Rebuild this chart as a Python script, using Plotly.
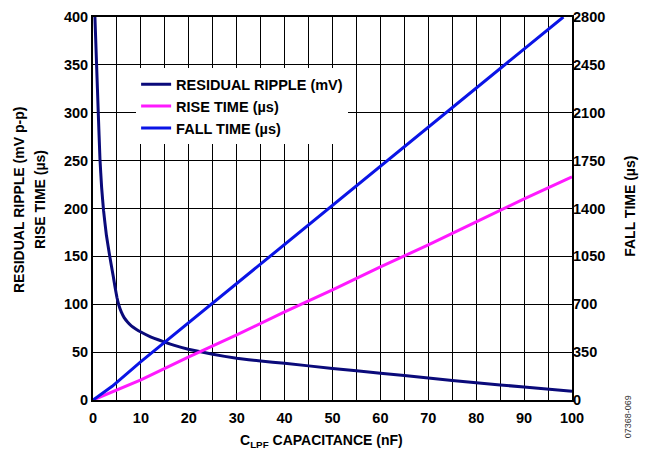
import plotly.graph_objects as go

# Residual ripple (mV p-p) vs capacitance (nF)
ripple_c = [0.4, 0.75, 1.1, 1.45, 1.8, 2.2, 2.8, 3.5, 4.2, 4.6, 5.0, 5.4, 5.9, 6.5,
            7.2, 8.0, 9.0, 10, 12, 14.7, 17, 19.9, 25, 30, 35, 40, 50, 60, 70, 80, 90, 100]
ripple_mv = [400, 350, 300, 252, 222, 198, 172, 150, 130, 118, 107, 99, 92, 86,
             81.5, 77.5, 74, 71, 66, 61, 57, 53, 47.7, 43.5, 40.7, 38.3, 33, 28, 23, 18, 13.5, 9]

# Rise time (µs), left axis
rise_c = [0, 10, 20, 30, 40, 50, 60, 70, 80, 90, 100]
rise_us = [0, 21, 45, 68, 92, 115, 139, 162, 186, 210, 233]

# Fall time (µs), right axis
fall_c = [0, 4, 10, 20, 30, 40, 50, 60, 70, 80, 90, 98.2]
fall_us = [0, 100, 280, 566, 852, 1138, 1423, 1708, 1993, 2278, 2563, 2800]

x_ticks = [0, 10, 20, 30, 40, 50, 60, 70, 80, 90, 100]
left_ticks = [0, 50, 100, 150, 200, 250, 300, 350, 400]
right_ticks = [0, 350, 700, 1050, 1400, 1750, 2100, 2450, 2800]

NAVY = "#0a0a7a"
MAGENTA = "#ff19ff"
BLUE = "#0a14e6"
FONT = "Liberation Sans, Arial, sans-serif"
TICK = 14.5
TITLE = 14

fig = go.Figure()
fig.add_trace(go.Scatter(x=ripple_c, y=ripple_mv, mode="lines", name="<b>RESIDUAL RIPPLE (mV)</b>",
                         line=dict(color=NAVY, width=3, shape="spline", smoothing=0.3)))
fig.add_trace(go.Scatter(x=rise_c, y=rise_us, mode="lines", name="<b>RISE TIME (µs)</b>",
                         line=dict(color=MAGENTA, width=3)))
fig.add_trace(go.Scatter(x=fall_c, y=fall_us, mode="lines", name="<b>FALL TIME (µs)</b>",
                         line=dict(color=BLUE, width=3), yaxis="y2"))


def title_ann(text, x, y, angle):
    return dict(text=f"<b>{text}</b>", xref="paper", yref="paper", x=x, y=y,
                xanchor="center", yanchor="middle", textangle=angle, showarrow=False,
                font=dict(size=TITLE, family=FONT, color="black"))


fig.update_layout(
    width=641, height=443,
    margin=dict(l=85, r=77, t=9, b=51),
    paper_bgcolor="white", plot_bgcolor="white",
    font=dict(family=FONT, size=14, color="black"),
    showlegend=True,
    legend=dict(x=0.09, y=0.866, xanchor="left", yanchor="top",
                bgcolor="white", borderwidth=0, itemwidth=30,
                font=dict(size=14.5, family=FONT, color="black"),
                tracegroupgap=0),
    xaxis=dict(range=[0, 100], tickvals=x_ticks, ticktext=[f"<b>{v}</b>" for v in x_ticks],
               tickfont=dict(size=TICK), ticklabelstandoff=4, automargin=False,
               showgrid=True, gridcolor="black", gridwidth=1,
               minor=dict(dtick=5, showgrid=True, gridcolor="black", gridwidth=1),
               showline=True, linecolor="black", linewidth=2, mirror=True,
               ticks="", zeroline=False),
    yaxis=dict(range=[0, 400], tickvals=left_ticks, ticktext=[f"<b>{v}</b>" for v in left_ticks],
               tickfont=dict(size=TICK), automargin=False,
               showgrid=True, gridcolor="black", gridwidth=1,
               showline=True, linecolor="black", linewidth=2, mirror=True,
               ticks="", zeroline=False),
    yaxis2=dict(range=[0, 2800], tickvals=right_ticks, ticktext=[f"<b>{v}</b>" for v in right_ticks],
                tickfont=dict(size=TICK), automargin=False,
                overlaying="y", side="right", showgrid=False, zeroline=False,
                showline=False, ticks=""),
    annotations=[
        title_ann("C<sub>LPF</sub> CAPACITANCE (nF)", 0.476, -0.107, 0),
        title_ann("RESIDUAL RIPPLE (mV p-p)", -0.1545, 0.522, -90),
        title_ann("RISE TIME (µs)", -0.1106, 0.522, -90),
        title_ann("FALL TIME (µs)", 1.121, 0.507, -90),
        dict(text="07368-069", xref="paper", yref="paper", x=1.117, y=-0.045,
             xanchor="center", yanchor="middle", textangle=-90, showarrow=False,
             font=dict(size=9, family=FONT, color="#333333")),
    ],
)

fig.write_html("out.html")
